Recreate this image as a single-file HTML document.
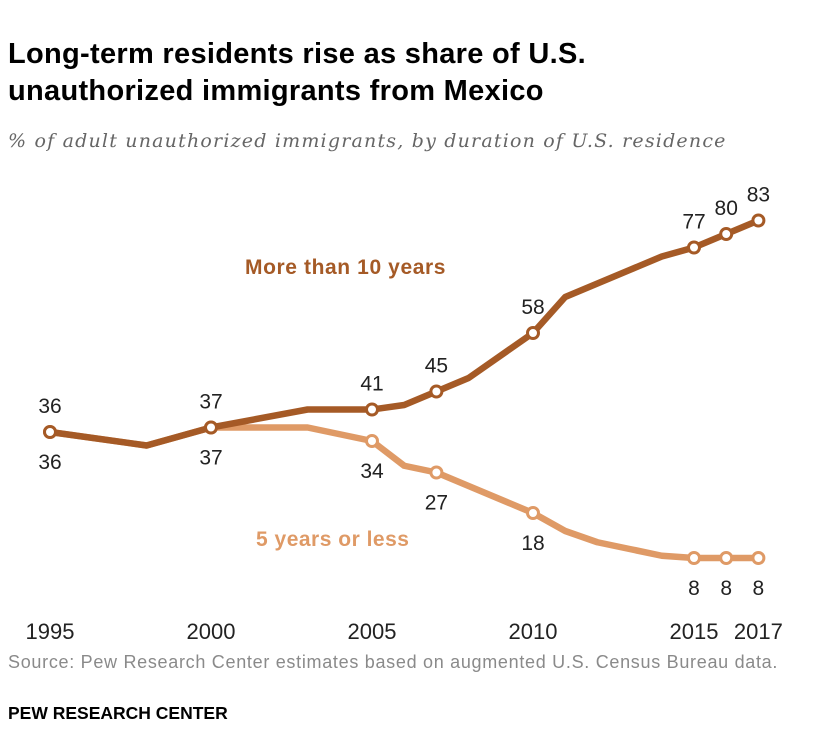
<!DOCTYPE html>
<html><head><meta charset="utf-8"><style>
body{margin:0;background:#fff;font-family:"Liberation Sans",sans-serif;}
#wrap{position:relative;width:840px;height:756px;overflow:hidden;}
.t{position:absolute;white-space:nowrap;}
</style></head><body>
<div id="wrap">
<div class="t" style="left:8px;top:36px;font-size:29px;font-weight:bold;line-height:37px;color:#000;letter-spacing:0.3px">Long-term residents rise as share of U.S.<br>unauthorized immigrants from Mexico</div>
<div class="t" style="left:8px;top:130px;font-size:19px;font-style:italic;color:#666;font-family:'DejaVu Serif',serif;letter-spacing:1.2px">% of adult unauthorized immigrants, by duration of U.S. residence</div>
<svg id="chart" width="840" height="756" style="position:absolute;left:0;top:0"></svg>
<div class="t" style="left:8px;top:652px;font-size:18px;letter-spacing:0.7px;color:#8a8a8a">Source: Pew Research Center estimates based on augmented U.S. Census Bureau data.</div>
<div class="t" style="left:8px;top:703px;font-size:17.5px;font-weight:bold;color:#000">PEW RESEARCH CENTER</div>
</div>
<script>
const years=[1995,1998,2000,2003,2005,2006,2007,2008,2010,2011,2012,2013,2014,2015,2016,2017];
const longTerm=[36,33,37,41,41,42,45,48,58,66,69,72,75,77,80,83];
const shortTerm=[36,33,37,37,34,28.5,27,24,18,14,11.5,10,8.5,8,8,8];
const markerYears=[1995,2000,2005,2007,2010,2015,2016,2017];
const longLabels=[36,37,41,45,58,77,80,83];
const shortLabels=[36,37,34,27,18,8,8,8];
const xTicks=[1995,2000,2005,2010,2015,2017];
const NS="http://www.w3.org/2000/svg";
const svg=document.getElementById('chart');
function x(y){return 50+(y-1995)*32.2;}
function yv(v){return 432-(v-36)*4.5;}
function mk(tag,attrs){const e=document.createElementNS(NS,tag);for(const k in attrs)e.setAttribute(k,attrs[k]);svg.appendChild(e);return e;}
const dark="#a55a26",light="#df9a66";
function series(vals,color,name,labels,above){
  const p=mk('polyline',{points:years.map((yr,i)=>x(yr)+','+yv(vals[i])).join(' '),fill:'none',stroke:color,'stroke-width':6.5,'stroke-linejoin':'round'});
  
  
  markerYears.forEach((yr,j)=>{
    const i=years.indexOf(yr);
    const c=mk('circle',{cx:x(yr),cy:yv(vals[i]),r:5.5,fill:'#fff',stroke:color,'stroke-width':3});
    
    
    const tx=mk('text',{x:x(yr),y:yv(vals[i])+(above?-19:37),'text-anchor':'middle','font-size':21,fill:'#222'});
    tx.textContent=labels[j];
    
    
  });
}
series(shortTerm,light,'five-years-or-less',shortLabels,false);
series(longTerm,dark,'more-than-10-years',longLabels,true);
xTicks.forEach(t=>{
  const tx=mk('text',{x:x(t),y:639,'text-anchor':'middle','font-size':22,fill:'#222'});
  tx.textContent=t;
  
  
});
const l1=mk('text',{x:245,y:274,'font-size':21,'font-weight':'bold','letter-spacing':'0.6',fill:dark});l1.textContent='More than 10 years';


const l2=mk('text',{x:256,y:546,'font-size':21,'font-weight':'bold','letter-spacing':'0.5',fill:light});l2.textContent='5 years or less';


</script>
</body></html>
